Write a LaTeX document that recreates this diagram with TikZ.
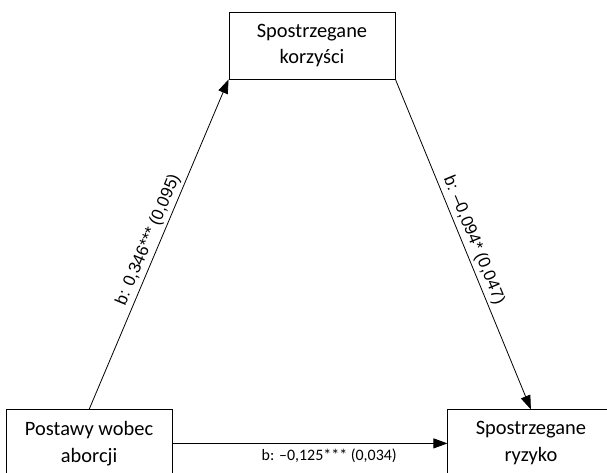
\documentclass[tikz,border=0pt]{standalone}
\usepackage{fontspec}
\setmainfont{Carlito}
\newfontfamily\coeffont{Liberation Sans}
\usetikzlibrary{arrows.meta,positioning}
\tikzset{
  >={Triangle[length=14bp,width=10bp]},
  varbox/.style={draw,line width=0.9bp,minimum width=166bp,minimum height=67bp,
                 align=center,inner sep=2bp,font=\fontsize{20.5}{27}\selectfont},
  effect/.style={->,line width=0.8bp},
  coef/.style={font=\coeffont\fontsize{17}{20}\selectfont,sloped,above,inner sep=3bp},
  coefflat/.style={font=\fontsize{16}{19}\selectfont,below,inner sep=5bp}
}
\begin{document}
\begin{tikzpicture}[x=1bp,y=1bp]
  \useasboundingbox[fill=white] (0,0) rectangle (607,473);
  \clip (0,0) rectangle (607,473);
  % variables
  \node[varbox] (benefits) at (312,427.5) {Spostrzegane\\korzyści};
  \node[varbox,below left=330bp and 56bp of benefits.south west,anchor=north east] (attitude)
    {Postawy wobec\\aborcji};
  \node[varbox,below right=330bp and 52bp of benefits.south east,anchor=north west] (risk)
    {Spostrzegane\\ryzyko};
  % paths
  \draw[effect] (attitude.north) -- node[coef] {b: 0,346*** (0,095)} (benefits.south west);
  \draw[effect] (benefits.south east) -- node[coef] {b: –0,094* (0,047)} (risk.north);
  \draw[effect] (attitude.east) -- node[coefflat,pos=0.57] {b: –0,125*** (0,034)} (risk.west);
\end{tikzpicture}
\end{document}
